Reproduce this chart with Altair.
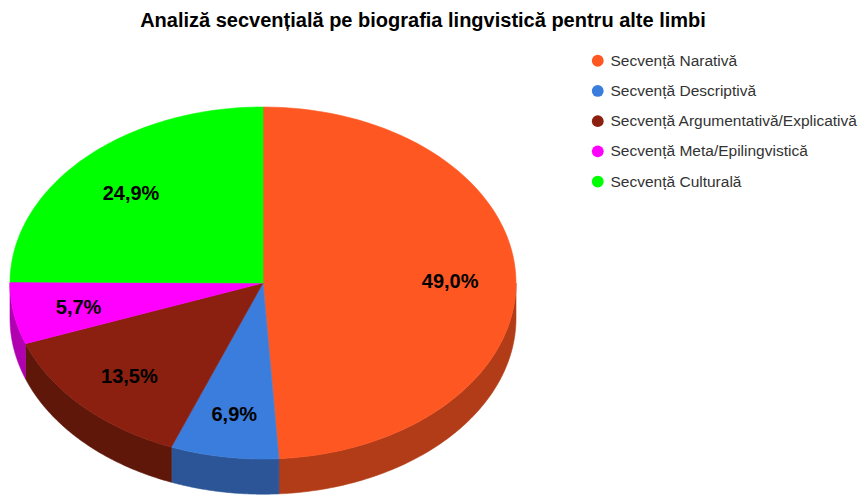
import altair as alt

# ---- data ----
categories = [
    "Secvență Narativă",
    "Secvență Descriptivă",
    "Secvență Argumentativă/Explicativă",
    "Secvență Meta/Epilingvistică",
    "Secvență Culturală",
]
values = [49.0, 6.9, 13.5, 5.7, 24.9]
top_colors = ["#FF5722", "#3B7DDD", "#8B2010", "#FF00FF", "#00FF00"]
side_colors = ["#B23C18", "#2B5597", "#5E1709", "#B000B0", "#00B000"]
labels = [f"{v:.1f}%".replace(".", ",") for v in values]

N = 80          # points along each arc
DEPTH = 0.2     # 3D depth, in units of the vertical radius
LBL = 0.74      # label distance from centre (fraction of radius)
PI = "PI"

records = [
    {"cat": c, "value": v, "idx": i, "label": l,
     "top_steps": list(range(-1, N + 1)),
     "side_steps": list(range(0, 2 * N + 2))}
    for i, (c, v, l) in enumerate(zip(categories, values, labels))
]
src = alt.Data(values=records)

xscale = alt.Scale(domain=[-1, 1], range=[2, 508])
yscale = alt.Scale(domain=[-1, 1], range=[411, 59])

base = alt.Chart(src).transform_joinaggregate(
    total="sum(value)"
).transform_window(
    cum="sum(value)", sort=[alt.SortField("idx")], frame=[None, 0]
).transform_calculate(
    a0=f"2*{PI}*(datum.cum - datum.value)/datum.total",
    a1=f"2*{PI}*datum.cum/datum.total",
)

# top face
top = base.transform_flatten(["top_steps"], as_=["k"]).transform_calculate(
    t=f"datum.a0 + (datum.a1 - datum.a0)*max(datum.k,0)/{N}"
).transform_calculate(
    px="datum.k < 0 ? 0 : sin(datum.t)",
    py="datum.k < 0 ? 0 : cos(datum.t)",
).mark_line(interpolate="linear-closed", strokeWidth=0.6).encode(
    x=alt.X("px:Q", scale=xscale, axis=None),
    y=alt.Y("py:Q", scale=yscale, axis=None),
    order=alt.Order("k:Q"),
    fill=alt.Fill(
        "cat:N",
        scale=alt.Scale(domain=categories, range=top_colors),
        legend=alt.Legend(
            orient="none", legendX=582, legendY=5, title=None,
            symbolType="circle", symbolSize=140, symbolStrokeWidth=0,
            labelFont="Liberation Sans", labelFontSize=15.5, labelColor="#333333",
            labelOffset=5, rowPadding=13.2, padding=0, labelLimit=400,
        ),
    ),
    stroke=alt.Stroke("cat:N", scale=alt.Scale(domain=categories, range=top_colors), legend=None),
)

# side walls (front half only)
side = base.transform_calculate(
    s0=f"max(datum.a0, {PI}/2)",
    s1=f"min(datum.a1, 3*{PI}/2)",
).transform_filter("datum.s1 > datum.s0").transform_flatten(
    ["side_steps"], as_=["k"]
).transform_calculate(
    j=f"datum.k <= {N} ? datum.k : {2 * N + 1} - datum.k"
).transform_calculate(
    t=f"datum.s0 + (datum.s1 - datum.s0)*datum.j/{N}"
).transform_calculate(
    px="sin(datum.t)",
    py=f"datum.k <= {N} ? cos(datum.t) : cos(datum.t) - {DEPTH}",
).mark_line(interpolate="linear-closed", strokeWidth=0.6).encode(
    x=alt.X("px:Q", scale=xscale, axis=None),
    y=alt.Y("py:Q", scale=yscale, axis=None),
    order=alt.Order("k:Q"),
    fill=alt.Fill("cat:N", scale=alt.Scale(domain=categories, range=side_colors), legend=None),
    stroke=alt.Stroke("cat:N", scale=alt.Scale(domain=categories, range=side_colors), legend=None),
)

text = base.transform_calculate(
    mid="(datum.a0 + datum.a1)/2"
).transform_calculate(
    px=f"{LBL}*sin(datum.mid)",
    py=f"{LBL}*cos(datum.mid)",
).mark_text(
    font="Liberation Sans", fontSize=20, fontWeight="bold", color="#000000", dy=3
).encode(
    x=alt.X("px:Q", scale=xscale, axis=None),
    y=alt.Y("py:Q", scale=yscale, axis=None),
    text="label:N",
)

chart = alt.layer(side, top, text).resolve_scale(
    fill="independent", stroke="independent"
).properties(
    width=852,
    height=447,
    padding={"left": 0, "top": 40, "right": 0, "bottom": 0},
    autosize=alt.AutoSizeParams(type="none"),
    title=alt.TitleParams(
        "Analiză secvențială pe biografia lingvistică pentru alte limbi",
        font="Liberation Sans", fontSize=20, fontWeight="bold", color="#000000",
        anchor="middle", baseline="alphabetic", offset=1, dx=-11,
    ),
).configure_view(stroke=None)

chart.save("out.html", embed_options={"renderer": "svg", "actions": False})
